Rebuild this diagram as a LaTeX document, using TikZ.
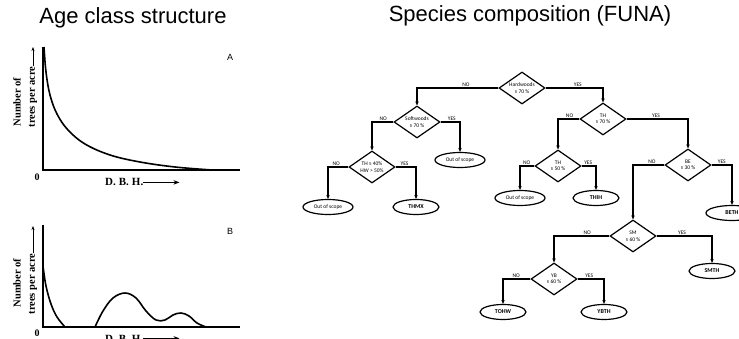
\documentclass[tikz,border=0pt]{standalone}
\usepackage{fontspec}
\setmainfont{Liberation Serif}
\newfontfamily\titlefont{Liberation Sans}
\newfontfamily\carlito{Carlito}
\usetikzlibrary{shapes.geometric,arrows.meta}
\begin{document}
\begin{tikzpicture}[x=1pt,y=-1pt,
  title/.style={font=\titlefont\fontsize{22}{24}\selectfont, anchor=base, inner sep=0pt},
  dia/.style={diamond, draw, line width=1.2pt, inner sep=0pt, aspect=1.45,
    minimum width=46pt, minimum height=32pt, align=center,
    font=\carlito\fontsize{5.5}{6.5}\selectfont},
  ell/.style={ellipse, draw, line width=1.2pt, inner sep=0pt,
    minimum width=50pt, minimum height=15pt, font=\carlito\fontsize{5.5}{6}\selectfont},
  code/.style={ell, font=\carlito\bfseries\fontsize{6}{6}\selectfont, minimum width=46pt},
  conn/.style={line width=1.2pt, -{Stealth[length=4pt,width=3.5pt]}},
  lab/.style={above, font=\carlito\fontsize{5.5}{6}\selectfont, inner sep=1pt},
  axisline/.style={line width=1.1pt},
  curveline/.style={line width=1.6pt, line join=round},
  ylab/.style={rotate=90, font=\bfseries\fontsize{10.5}{11}\selectfont, inner sep=0pt},
  dbh/.style={font=\bfseries\fontsize{11}{11}\selectfont, inner sep=0pt, anchor=base west},
  dbharrow/.style={line width=0.9pt, -{Stealth[length=6pt,width=4.5pt]}},
  zero/.style={font=\bfseries\fontsize{10}{10}\selectfont, inner sep=0pt},
  panel/.style={font=\titlefont\fontsize{9}{9}\selectfont, inner sep=0pt}
]
\useasboundingbox (0,0) rectangle (739,339);
\clip (0,0) rectangle (739,339);

% ---------- titles ----------
\node[title] (t1) at (133,24) {Age class structure};
\node[title] (t2) at (530,22) {Species composition (FUNA)};

% ---------- graph A ----------
\draw[axisline] (43,47) -- (43,170) -- (240,170);
\draw[curveline] plot[smooth, tension=0.6] coordinates
  {(44,47) (46,72) (50,95) (57,114) (68,130) (85,144) (110,155) (140,162) (175,167) (212,170)};
\node[ylab] (ya1) at (17,102) {Number of};
\node[ylab] (ya2) at (33,97) {trees per acre};
\draw[line width=0.9pt, -{Stealth[length=4pt,width=3pt]}] (ya2.east) -- (33,47);
\node[zero] (za) at (37,177) {0};
\node[dbh] (da) at (105,186) {D.\hspace{3pt}B.\hspace{3pt}H.};
\draw[dbharrow] ([yshift=3.6pt]da.base east) -- ++(36,0);
\node[panel] (pa) at (230,57) {A};

% ---------- graph B ----------
\draw[axisline] (43,225) -- (43,327) -- (240,327);
\draw[curveline] plot[smooth, tension=0.6] coordinates
  {(43,266) (46,286) (51,304) (57,317) (65,327)};
\draw[curveline] plot[smooth, tension=0.6] coordinates
  {(95,327) (103,311) (113,298) (125,293) (136,298) (146,311) (156,320) (165,320) (173,315) (181,313) (189,316) (197,323) (206,327)};
\node[ylab] (yb1) at (17,283) {Number of};
\node[ylab] (yb2) at (33,284) {trees per acre};
\draw[line width=0.9pt, -{Stealth[length=4pt,width=3pt]}] (yb2.east) -- (33,226);
\node[zero] (zb) at (37,333) {0};
\node[dbh] (db) at (105,342) {D.\hspace{3pt}B.\hspace{3pt}H.};
\draw[dbharrow] ([yshift=3.6pt]db.base east) -- ++(36,0);
\node[panel] (pb) at (230,231) {B};

% ---------- decision tree ----------
\node[dia] (hw)  at (522,88)  {Hardwoods\\≥ 70 \%};
\node[dia] (sw)  at (417,122) {Softwoods\\≥ 70 \%};
\node[dia] (t40) at (372,167) {TH ≥ 40\%\\HW > 50\%};
\node[dia] (t70) at (603,119) {TH\\≥ 70 \%};
\node[dia] (t50) at (558,166) {TH\\≥ 50 \%};
\node[dia] (be)  at (688,165) {BE\\≥ 30 \%};
\node[dia] (sm)  at (633,236) {SM\\≥ 60 \%};
\node[dia] (yb)  at (554,279) {YB\\≥ 60 \%};

\node[ell]  (os1) at (460,160) {Out of scope};
\node[ell]  (os2) at (328,207) {Out of scope};
\node[code] (thmx) at (416,207) {THMX};
\node[ell]  (os3) at (520,198) {Out of scope};
\node[code] (thih) at (596,198) {THIH};
\node[code, minimum width=52pt] (beth) at (732,213) {BETH};
\node[code] (smth) at (712,271) {SMTH};
\node[code] (tohw) at (503,312) {TOHW};
\node[code] (ybth) at (604,312) {YBTH};

\draw[conn] (hw.west)  -| node[lab, pos=0.2]  {NO}  (sw.north);
\draw[conn] (hw.east)  -| node[lab, pos=0.28] {YES} (t70.north);
\draw[conn] (sw.west)  -| node[lab, pos=0.24] {NO}  (t40.north);
\draw[conn] (sw.east)  -| node[lab, pos=0.29] {YES} (os1.north);
\draw[conn] (t40.west) -| node[lab, pos=0.3]  {NO}  (os2.north);
\draw[conn] (t40.east) -| node[lab, pos=0.22] {YES} (thmx.north);
\draw[conn] (t70.west) -| node[lab, pos=0.23] {NO}  (t50.north);
\draw[conn] (t70.east) -| node[lab, pos=0.24] {YES} (be.north);
\draw[conn] (t50.west) -| node[lab, pos=0.27] {NO}  (os3.north);
\draw[conn] (t50.east) -| node[lab, pos=0.23] {YES} (thih.north);
\draw[conn] (be.west)  -| node[lab, pos=0.2]  {NO}  (sm.north);
\draw[conn] (be.east)  -| node[lab, pos=0.25] {YES} (beth.north);
\draw[conn] (sm.west)  -| node[lab, pos=0.2]  {NO}  (yb.north);
\draw[conn] (sm.east)  -| node[lab, pos=0.23] {YES} (smth.north);
\draw[conn] (yb.west)  -| node[lab, pos=0.26] {NO}  (tohw.north);
\draw[conn] (yb.east)  -| node[lab, pos=0.22] {YES} (ybth.north);
\end{tikzpicture}
\end{document}
